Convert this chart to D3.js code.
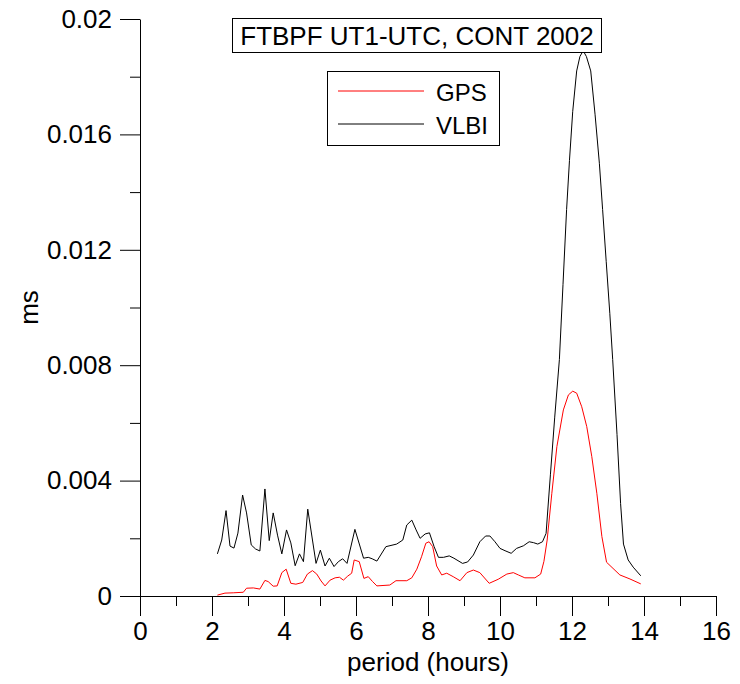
<!DOCTYPE html>
<html>
<head>
<meta charset="utf-8">
<script src="https://cdn.jsdelivr.net/npm/d3@7"></script>
<style>
  html, body { margin: 0; padding: 0; background: #fff; }
  svg { display: block; font-family: "Liberation Sans", Arial, sans-serif; }
</style>
</head>
<body>
<svg id="chart" width="740" height="684"></svg>
<script>
// Spectral amplitude of UT1-UTC (FTBPF), CONT 2002 campaign
const gpsPeriod = [2.15, 2.36, 2.59, 2.87, 2.96, 3.15, 3.33, 3.47, 3.56, 3.70, 3.81, 3.94, 4.06, 4.19, 4.33, 4.52, 4.65, 4.79, 4.91, 5.03,
  5.14, 5.28, 5.42, 5.54, 5.65, 5.77, 5.88, 5.95, 6.09, 6.22, 6.34, 6.46, 6.58, 6.94, 7.11, 7.41, 7.55, 7.69, 7.82, 7.94,
  8.03, 8.13, 8.24, 8.38, 8.52, 8.70, 8.89, 9.08, 9.26, 9.44, 9.70, 9.95, 10.19, 10.37, 10.51, 10.69, 10.97, 11.13, 11.22, 11.31,
  11.44, 11.58, 11.76, 11.90, 12.02, 12.13, 12.27, 12.41, 12.55, 12.69, 12.83, 12.96, 13.33, 13.61, 13.91];
const gpsValue = [0.00003, 0.0001, 0.00011, 0.00013, 0.00027, 0.00028, 0.00024, 0.00054, 0.0005, 0.00034, 0.00035, 0.00081, 0.00093, 0.00044, 0.00041, 0.00047, 0.00076, 0.00088, 0.00076, 0.00052,
  0.00035, 0.00055, 0.00063, 0.00065, 0.00055, 0.00069, 0.00079, 0.00125, 0.00119, 0.00061, 0.00067, 0.0005, 0.00035, 0.00038, 0.00053, 0.00053, 0.00063, 0.00093, 0.00136, 0.00183,
  0.00188, 0.00171, 0.00104, 0.00073, 0.00079, 0.00067, 0.00053, 0.00081, 0.0009, 0.00081, 0.00044, 0.00058, 0.00076, 0.00081, 0.00073, 0.00063, 0.00063, 0.00076, 0.0012, 0.00194,
  0.00356, 0.00518, 0.00645, 0.00697, 0.0071, 0.00703, 0.00656, 0.00587, 0.00483, 0.00356, 0.00206, 0.00117, 0.00073, 0.00059, 0.00042];

const vlbiPeriod = [2.15, 2.27, 2.39, 2.50, 2.61, 2.72, 2.85, 2.96, 3.09, 3.21, 3.33, 3.47, 3.59, 3.70, 3.82, 3.94, 4.07, 4.19, 4.31, 4.43,
  4.54, 4.66, 4.89, 5.01, 5.14, 5.26, 5.39, 5.51, 5.63, 5.75, 5.97, 6.21, 6.34, 6.45, 6.58, 6.83, 7.13, 7.30, 7.41, 7.55,
  7.67, 7.78, 7.92, 8.04, 8.17, 8.29, 8.43, 8.59, 8.72, 8.96, 9.10, 9.26, 9.44, 9.60, 9.72, 9.86, 10.00, 10.14, 10.31, 10.46,
  10.65, 10.81, 10.93, 11.05, 11.18, 11.28, 11.40, 11.52, 11.65, 11.75, 11.85, 11.93, 12.02, 12.13, 12.22, 12.31, 12.40, 12.52, 12.64, 12.76,
  12.85, 12.95, 13.05, 13.13, 13.25, 13.35, 13.43, 13.56, 13.70, 13.91];
const vlbiValue = [0.00146, 0.00194, 0.00296, 0.00173, 0.00166, 0.00218, 0.0035, 0.00288, 0.00177, 0.00163, 0.00156, 0.00371, 0.00192, 0.00288, 0.00211, 0.00146, 0.00229, 0.00184, 0.00105, 0.00146,
  0.00119, 0.00301, 0.00113, 0.00159, 0.00104, 0.00131, 0.00102, 0.00119, 0.00129, 0.00113, 0.00231, 0.00131, 0.00134, 0.00129, 0.00121, 0.00171, 0.0018, 0.00194, 0.00246, 0.00263,
  0.00229, 0.002, 0.00215, 0.00219, 0.00171, 0.00134, 0.00134, 0.00139, 0.00131, 0.00113, 0.00118, 0.00142, 0.00188, 0.00208, 0.00208, 0.00188, 0.00165, 0.00157, 0.00148, 0.00165,
  0.00174, 0.00188, 0.00185, 0.0018, 0.00188, 0.00217, 0.0042, 0.0062, 0.0082, 0.0108, 0.0134, 0.0151, 0.0168, 0.0182, 0.0187, 0.0189, 0.0187, 0.0182, 0.0167, 0.015,
  0.0134, 0.0116, 0.0098, 0.0082, 0.0056, 0.0032, 0.0018, 0.00125, 0.001, 0.0007];

const xTicks = [0, 2, 4, 6, 8, 10, 12, 14, 16];
const yTicks = [0, 0.004, 0.008, 0.012, 0.016, 0.02];
const yTickLabels = ["0", "0.004", "0.008", "0.012", "0.016", "0.02"];

const svg = d3.select("#chart");
const plotLeft = 140, plotRight = 716, plotTop = 19, plotBottom = 596;

const x = d3.scaleLinear().domain([0, 16]).range([plotLeft, plotRight]);
const y = d3.scaleLinear().domain([0, 0.02]).range([plotBottom, plotTop]);

// minor ticks
svg.append("g")
  .attr("transform", `translate(0,${plotBottom})`)
  .call(d3.axisBottom(x).tickValues(d3.range(1, 16, 2)).tickSize(10).tickSizeOuter(0).tickFormat(""))
  .call(g => g.select(".domain").remove());
svg.append("g")
  .attr("transform", `translate(${plotLeft},0)`)
  .call(d3.axisLeft(y).tickValues(d3.range(0.002, 0.02, 0.004)).tickSize(10).tickSizeOuter(0).tickFormat(""))
  .call(g => g.select(".domain").remove());

// major axes
svg.append("g")
  .attr("transform", `translate(0,${plotBottom})`)
  .call(d3.axisBottom(x).tickValues(xTicks).tickSize(20).tickSizeOuter(0).tickPadding(6).tickFormat(d3.format("d")));
svg.append("g")
  .attr("transform", `translate(${plotLeft},0)`)
  .call(d3.axisLeft(y).tickValues(yTicks).tickSize(20).tickSizeOuter(0).tickPadding(8)
    .tickFormat((d, i) => yTickLabels[i]));

svg.selectAll(".tick text").attr("font-size", 26).attr("fill", "#000")
  .attr("font-family", "Liberation Sans, Arial, sans-serif");
svg.selectAll(".domain, .tick line").attr("stroke", "#000").attr("stroke-width", 1);

// axis titles
svg.append("text").attr("x", (plotLeft + plotRight) / 2).attr("y", 671)
  .attr("text-anchor", "middle").attr("font-size", 26).text("period (hours)");
svg.append("text").attr("transform", `translate(38,${(plotTop + plotBottom) / 2}) rotate(-90)`)
  .attr("text-anchor", "middle").attr("font-size", 26).text("ms");

// series
const line = d3.line().x(d => x(d[0])).y(d => y(d[1]));
svg.append("path").datum(gpsPeriod.map((p, i) => [p, gpsValue[i]]))
  .attr("d", line).attr("fill", "none").attr("stroke", "#ff0000").attr("stroke-width", 1);
svg.append("path").datum(vlbiPeriod.map((p, i) => [p, vlbiValue[i]]))
  .attr("d", line).attr("fill", "none").attr("stroke", "#000").attr("stroke-width", 1);

// title box
svg.append("rect").attr("x", 232.5).attr("y", 18.5).attr("width", 369).attr("height", 34)
  .attr("fill", "#fff").attr("stroke", "#000");
svg.append("text").attr("x", 417).attr("y", 45).attr("text-anchor", "middle")
  .attr("font-size", 26).text("FTBPF UT1-UTC, CONT 2002");

// legend
const legend = svg.append("g");
legend.append("rect").attr("x", 327.5).attr("y", 71.5).attr("width", 172).attr("height", 74)
  .attr("fill", "#fff").attr("stroke", "#000");
const legendItems = [["GPS", "#ff0000", 91], ["VLBI", "#000", 124]];
legendItems.forEach(([name, color, ly]) => {
  legend.append("line").attr("x1", 338).attr("x2", 424).attr("y1", ly).attr("y2", ly)
    .attr("stroke", color).attr("stroke-width", 1);
  legend.append("text").attr("x", 436).attr("y", ly + 10).attr("font-size", 24).text(name);
});
</script>
</body>
</html>
